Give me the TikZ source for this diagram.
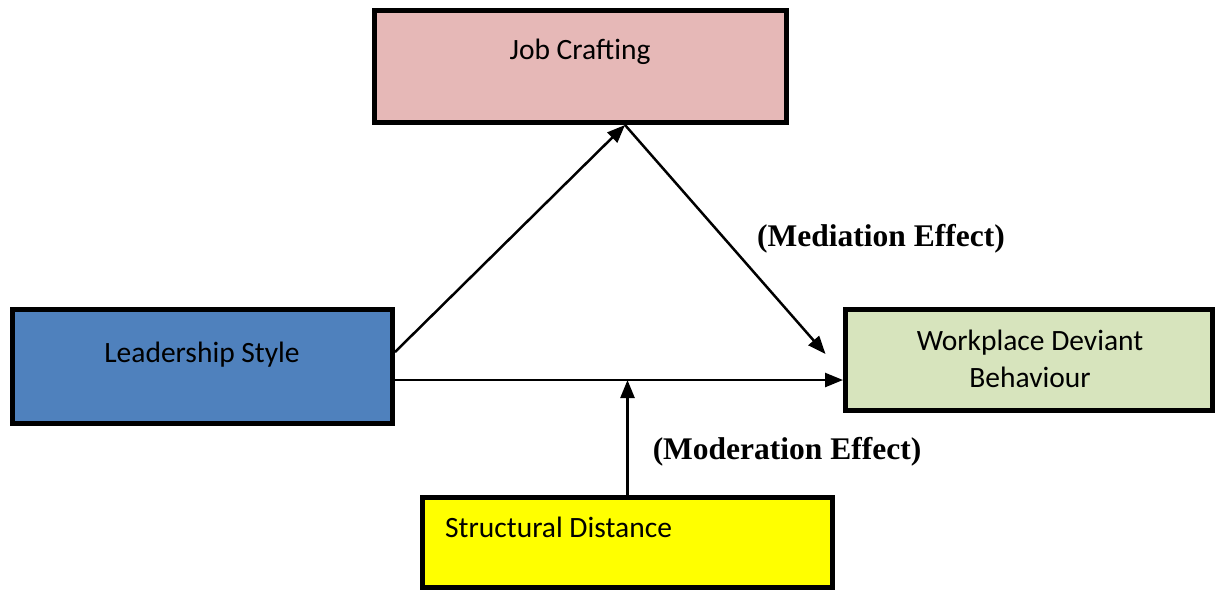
\documentclass[tikz,border=0pt]{standalone}
\usepackage{fontspec}
\setmainfont{Carlito}
\newfontfamily\labelfont{Liberation Serif}
\usetikzlibrary{arrows.meta}
\definecolor{jcpink}{HTML}{E6B8B7}
\definecolor{lsblue}{HTML}{4F81BD}
\definecolor{wdgreen}{HTML}{D7E4BD}
\definecolor{sdyellow}{HTML}{FFFF00}
\begin{document}
\begin{tikzpicture}[x=1pt,y=-1pt,
  box/.style={draw=black,line width=5pt,rectangle,inner sep=0pt},
  boxtext/.style={font=\fontsize{29.5}{37}\selectfont,inner sep=0pt,align=center},
  effect/.style={font=\labelfont\bfseries\fontsize{31.5}{36}\selectfont,inner sep=0pt},
  link/.style={line width=2.5pt,-{Triangle[length=18pt,width=14pt]}}]
\useasboundingbox (0,0) rectangle (1217,590);
% boxes
\node[box,fill=jcpink,minimum width=412pt,minimum height=112pt] (JC) at (580.5,66.5) {};
\node[box,fill=lsblue,minimum width=380pt,minimum height=114pt] (LS) at (202.5,366.5) {};
\node[box,fill=wdgreen,minimum width=367pt,minimum height=101pt] (WDB) at (1029,360) {};
\node[box,fill=sdyellow,minimum width=410pt,minimum height=90pt] (SD) at (627.5,542.5) {};
% box captions
\node[boxtext] (tJC) at (580,52) {Job Crafting};
\node[boxtext] (tLS) at (202,355) {Leadership Style};
\node[boxtext] (tWDB) at (1030,359) {Workplace Deviant\\Behaviour};
\node[boxtext,anchor=west] (tSD) at (445,527) {Structural Distance};
% effect labels
\node[effect] (med) at (881,239) {(Mediation Effect)};
\node[effect] (mod) at (787,452) {(Moderation Effect)};
% connectors
\coordinate (apex) at ([xshift=44.5pt]JC.south);
\coordinate (lsUp) at ([yshift=14.5pt]LS.east);
\coordinate (lsMid) at ([yshift=-13.5pt]LS.east);
\coordinate (wdTip) at ([xshift=-17.5pt,yshift=6pt]WDB.west);
\draw[link] (lsUp) -- (apex);
\draw[link] (apex) -- (wdTip);
\draw[link] (lsMid) -- (WDB.west |- lsMid);
\draw[link] (SD.north) -- (SD.north |- lsMid);
\end{tikzpicture}
\end{document}
